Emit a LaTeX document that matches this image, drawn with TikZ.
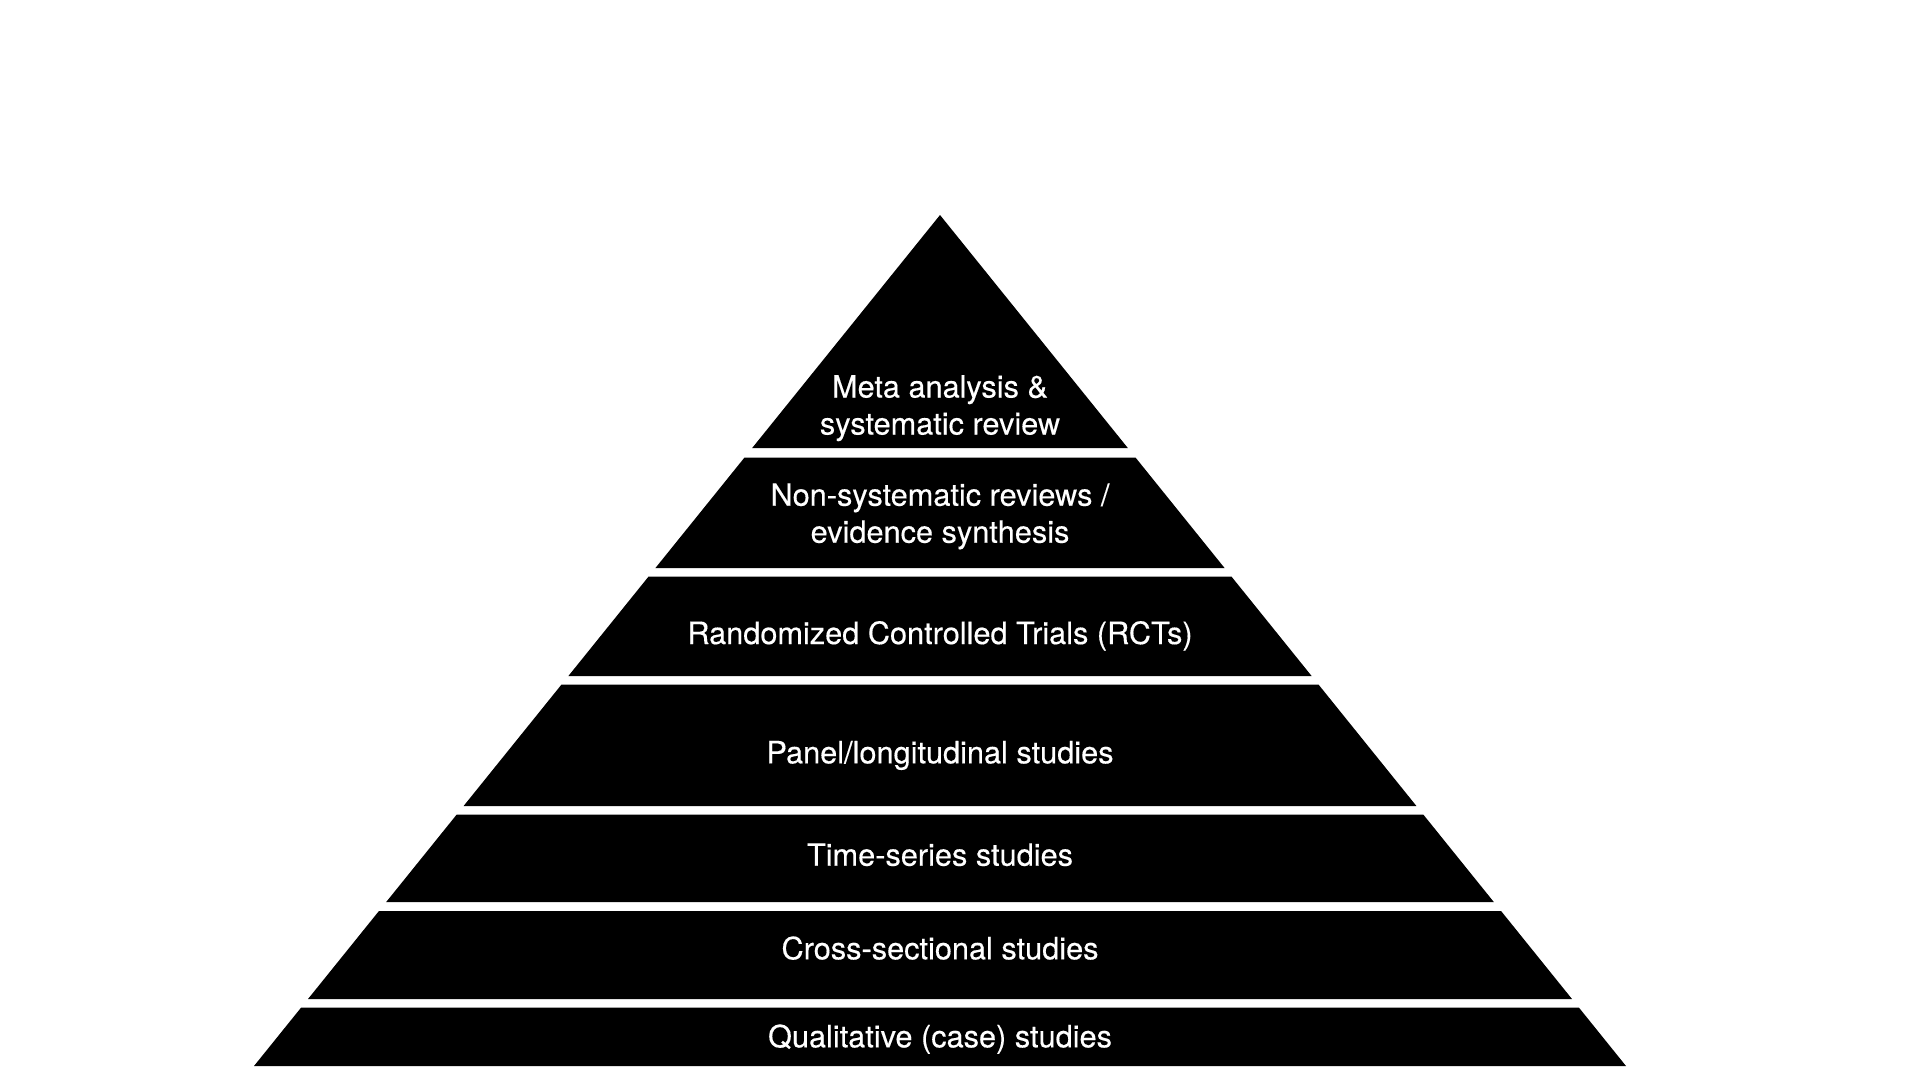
\documentclass[tikz,border=0pt]{standalone}
\usepackage{fontspec}
\setmainfont{TeX Gyre Heros}
\newfontfamily\tierfont[FakeBold=0.35]{TeX Gyre Heros}
\begin{document}
\begin{tikzpicture}[x=1pt,y=-1pt,
  tier/.style={fill=black},
  tiertext/.style={text=white,anchor=base,align=center,inner sep=0pt,
    font=\tierfont\fontsize{30.7}{37}\selectfont}]
\useasboundingbox[fill=white] (0,0) rectangle (1920,1080);
% apex and slope of the pyramid sides
\def\ax{940}
\def\ay{215}
\def\sl{0.80611}
% top triangle
\pgfmathsetmacro\wb{\sl*(448-\ay)}
\fill[tier] (\ax,\ay) -- (\ax+\wb,448) -- (\ax-\wb,448) -- cycle;
% trapezoid tiers
\foreach \t/\b in {457.5/568, 576.5/676, 684.5/806, 814.5/902, 911/999, 1007.5/1066}{
  \pgfmathsetmacro\wt{\sl*(\t-\ay)}
  \pgfmathsetmacro\wb{\sl*(\b-\ay)}
  \fill[tier] (\ax-\wt,\t) -- (\ax+\wt,\t) -- (\ax+\wb,\b) -- (\ax-\wb,\b) -- cycle;
}
% two-line nodes: base anchor sits on the last line's baseline
\node[tiertext] (meta) at (\ax,434.5) {Meta analysis \&\\systematic review};
\node[tiertext] (nonsys) at (\ax,542.7) {Non-systematic reviews /\\evidence synthesis};
\node[tiertext] (rct) at (\ax,644) {Randomized Controlled Trials (RCTs)};
\node[tiertext] (panel) at (\ax,763.3) {Panel/longitudinal studies};
\node[tiertext] (ts) at (\ax,865.7) {Time-series studies};
\node[tiertext] (cs) at (\ax,959.3) {Cross-sectional studies};
\node[tiertext] (qual) at (\ax,1047.3) {Qualitative (case) studies};
\end{tikzpicture}
\end{document}
